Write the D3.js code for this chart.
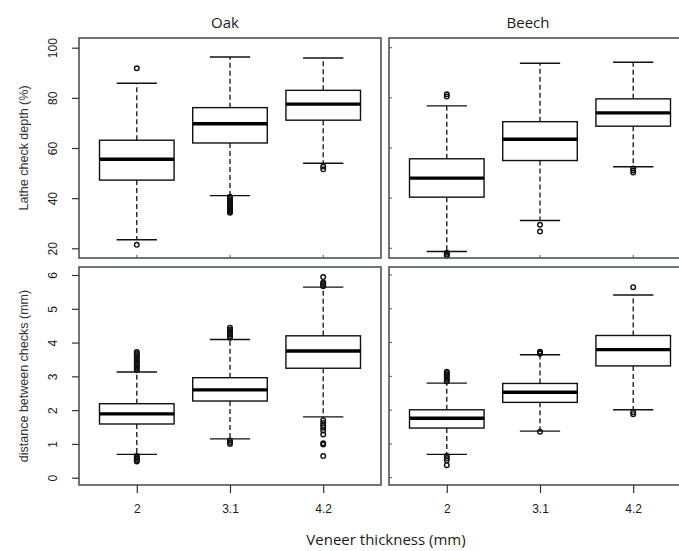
<!DOCTYPE html>
<html>
<head>
<meta charset="utf-8">
<script src="https://d3js.org/d3.v7.min.js"></script>
<title>Lathe checks</title>
<style>
  body { margin: 0; background: #fff; }
  text { font-family: "Liberation Sans", Arial, sans-serif; fill: #1a1a1a; }
  .title { font-family: "Open Sans", sans-serif; }
</style>
</head>
<body>
<script>
const species = ["Oak", "Beech"]
const thickness = ["2", "3.1", "4.2"]
const depthTicks = [20, 40, 60, 80, 100]
const distTicks = [0, 1, 2, 3, 4, 5, 6]

// [lower whisker, Q1, median, Q3, upper whisker] per thickness
const oakDepth = [[23.4, 47.2, 55.5, 63.1, 85.8], [41.0, 62.0, 69.7, 76.1, 96.3], [53.9, 71.1, 77.5, 83.0, 95.9]]
const oakDepthOut = [[91.8, 21.4],
  [40.6, 40.1, 39.6, 39.1, 38.6, 38.1, 37.6, 37.1, 36.6, 36.1, 35.6, 35.1, 34.6, 34.2],
  [52.6, 51.5]]
const beechDepth = [[18.7, 40.4, 48.0, 55.7, 76.8], [31.1, 55.0, 63.5, 70.5, 93.8], [52.5, 68.7, 74.0, 79.6, 94.2]]
const beechDepthOut = [[81.4, 80.5, 18.2, 17.6, 17.0], [29.4, 26.7], [51.8, 51.0, 50.2]]

const oakDist = [[0.69, 1.59, 1.89, 2.19, 3.13], [1.15, 2.27, 2.60, 2.96, 4.09], [1.80, 3.24, 3.75, 4.20, 5.64]]
const oakDistOut = [[3.18, 3.23, 3.28, 3.33, 3.38, 3.43, 3.48, 3.53, 3.58, 3.63, 3.68, 3.72, 0.64, 0.6, 0.56, 0.52, 0.48],
  [4.14, 4.19, 4.24, 4.29, 4.34, 4.39, 4.44, 1.1, 1.05, 1.0],
  [5.94, 5.78, 5.74, 5.7, 5.67, 1.7, 1.62, 1.55, 1.48, 1.4, 1.28, 1.02, 0.98, 0.64]]
const beechDist = [[0.69, 1.47, 1.76, 2.01, 2.80], [1.38, 2.23, 2.53, 2.79, 3.64], [2.01, 3.31, 3.79, 4.21, 5.41]]
const beechDistOut = [[2.85, 2.9, 2.95, 3.0, 3.05, 3.1, 3.14, 0.64, 0.58, 0.52, 0.37],
  [3.67, 3.7, 3.73, 1.36],
  [5.64, 1.94, 1.88]]

const width = 679
const height = 551
const svg = d3.select('body').append('svg')
    .attr('width', width)
    .attr('height', height)

const cols = [[79, 381], [389, 691]]
const rows = [[38, 258], [267, 485]]

const yDepth = d3.scaleLinear().domain([16.13, 103.87]).range([258, 38])
const yDist = d3.scaleLinear().domain([-0.216, 6.237]).range([485, 267])

const panels = [
  {col: 0, row: 0, y: yDepth, stats: oakDepth, out: oakDepthOut, ticks: depthTicks},
  {col: 1, row: 0, y: yDepth, stats: beechDepth, out: beechDepthOut, ticks: depthTicks},
  {col: 0, row: 1, y: yDist, stats: oakDist, out: oakDistOut, ticks: distTicks},
  {col: 1, row: 1, y: yDist, stats: beechDist, out: beechDistOut, ticks: distTicks}
]

panels.forEach(p => {
  const [x0, x1] = cols[p.col]
  const [y0, y1] = rows[p.row]
  const x = d3.scalePoint().domain(thickness).range([x0, x1]).padding(0.62)
  const y = p.y
  const halfBox = x.step() * 0.4
  const halfCap = halfBox * 0.54
  const g = svg.append('g')

  thickness.forEach((t, i) => {
    const [lo, q1, med, q3, hi] = p.stats[i]
    const cx = x(t)
    // whiskers
    g.append('line').attr('x1', cx).attr('x2', cx).attr('y1', y(q3)).attr('y2', y(hi))
        .attr('stroke', '#111').attr('stroke-width', 1.3).attr('stroke-dasharray', '5,3')
    g.append('line').attr('x1', cx).attr('x2', cx).attr('y1', y(q1)).attr('y2', y(lo))
        .attr('stroke', '#111').attr('stroke-width', 1.3).attr('stroke-dasharray', '5,3')
    // staples
    ;[lo, hi].forEach(v => {
      g.append('line').attr('x1', cx - halfCap).attr('x2', cx + halfCap).attr('y1', y(v)).attr('y2', y(v))
          .attr('stroke', '#111').attr('stroke-width', 1.4)
    })
    // box
    g.append('rect').attr('x', cx - halfBox).attr('y', y(q3))
        .attr('width', halfBox * 2).attr('height', y(q1) - y(q3))
        .attr('fill', 'white').attr('stroke', '#111').attr('stroke-width', 1.4)
    g.append('line').attr('x1', cx - halfBox).attr('x2', cx + halfBox).attr('y1', y(med)).attr('y2', y(med))
        .attr('stroke', '#000').attr('stroke-width', 3.4)
    // outliers
    g.selectAll(null).data(p.out[i]).enter().append('circle')
        .attr('cx', cx).attr('cy', d => y(d)).attr('r', 2.3)
        .attr('fill', 'none').attr('stroke', '#111').attr('stroke-width', 1.4)
  })

  // frame
  svg.append('rect').attr('x', x0).attr('y', y0).attr('width', x1 - x0).attr('height', y1 - y0)
      .attr('fill', 'none').attr('stroke', '#4d5353').attr('stroke-width', 1.6)

  if (p.col === 0) {
    const ax = svg.append('g').attr('transform', `translate(${x0},0)`)
        .call(d3.axisLeft(y).tickValues(p.ticks).tickSize(7).tickFormat(d3.format('d')))
    ax.select('.domain').remove()
    ax.selectAll('.tick line').attr('stroke', '#333').attr('stroke-width', 1.2)
    ax.selectAll('.tick text')
        .attr('x', 0).attr('y', 0).attr('dy', null)
        .attr('transform', 'translate(-22,0) rotate(-90)')
        .attr('text-anchor', 'middle')
        .style('font-size', '12px')
  } else {
    // small inner ticks on the shared axis
    svg.append('g').selectAll('line').data(p.ticks).enter().append('line')
        .attr('x1', x0).attr('x2', x0 + 3).attr('y1', d => y(d)).attr('y2', d => y(d))
        .attr('stroke', '#555').attr('stroke-width', 1)
  }

  if (p.row === 1) {
    const ax = svg.append('g').attr('transform', `translate(0,${y1})`)
        .call(d3.axisBottom(x).tickSize(8).tickPadding(11))
    ax.select('.domain').remove()
    ax.selectAll('.tick line').attr('stroke', '#333').attr('stroke-width', 1.2)
    ax.selectAll('.tick text').style('font-size', '12px')
  } else {
    svg.append('g').selectAll('line').data(thickness).enter().append('line')
        .attr('x1', d => x(d)).attr('x2', d => x(d)).attr('y1', y1).attr('y2', y1 - 3)
        .attr('stroke', '#555').attr('stroke-width', 1)
  }

  if (p.row === 0) {
    svg.append('text').attr('class', 'title')
        .attr('x', (x0 + x1) / 2 - (p.col === 1 ? 12 : 5)).attr('y', 28)
        .attr('text-anchor', 'middle').style('font-size', '15px')
        .text(species[p.col])
  }
})

// axis titles
svg.append('text')
    .attr('transform', `translate(28,${(rows[0][0] + rows[0][1]) / 2}) rotate(-90)`)
    .attr('text-anchor', 'middle').style('font-size', '12.5px').style('fill', '#333')
    .text('Lathe check depth (%)')
svg.append('text')
    .attr('transform', `translate(28,${(rows[1][0] + rows[1][1]) / 2}) rotate(-90)`)
    .attr('text-anchor', 'middle').style('font-size', '12.5px').style('fill', '#333')
    .text('distance between checks (mm)')
svg.append('text').attr('class', 'title')
    .attr('x', 386).attr('y', 545)
    .attr('text-anchor', 'middle').style('font-size', '15px')
    .text('Veneer thickness (mm)')
</script>
</body>
</html>
